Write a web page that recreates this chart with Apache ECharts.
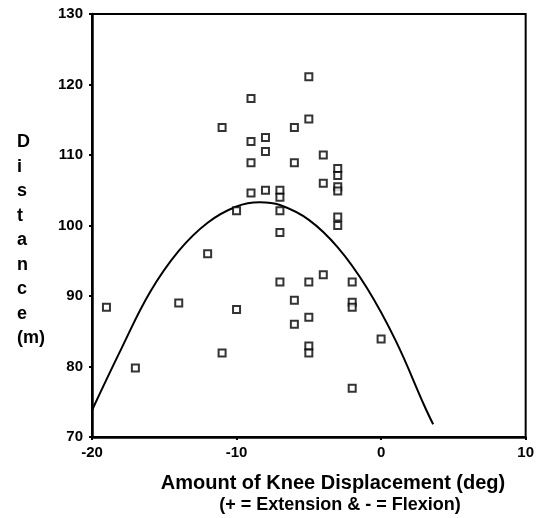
<!DOCTYPE html>
<html>
<head>
<meta charset="utf-8">
<script src="https://cdn.jsdelivr.net/npm/echarts@6/dist/echarts.min.js"></script>
<style>html,body{margin:0;padding:0;background:#fff;}#c{width:537px;height:518px;}</style>
</head>
<body>
<div id="c"></div>
<script>
// Observed points: [knee displacement (deg), distance (m)]
var pointX = [-19,-17,-14,-12,-11,-11,-10,-10,-9,-9,-9,-9,-8,-8,-8,-7,-7,-7,-7,-7,-6,-6,-6,-6,-5,-5,-5,-5,-5,-5,-4,-4,-4,-3,-3,-3,-3,-3,-3,-2,-2,-2,-2,0];
var pointY = [88.4,79.8,89,96,113.9,81.9,102.1,88.1,118,111.9,108.9,104.6,112.5,110.5,105,105,104,102.1,99,92,113.9,108.9,89.4,86,121.1,115.1,92,87,82.9,81.9,110,106,93,108.1,107.1,105.5,104.9,101.2,100,92,89.1,88.4,76.9,83.9];
// Fitted curve
var curveX = [-20,-18,-16,-14,-12,-10,-8.4,-7,-5,-3,-1,1,3,3.6];
var curveY = [73.8,82.4,90.5,96.4,100.4,102.7,103.3,102.9,100.8,96.9,91.2,83.7,74.4,71.8];
var xTicks = [-20,-10,0,10];
var yTicks = [70,80,90,100,110,120,130];
var xTitle1 = 'Amount of Knee Displacement (deg)';
var xTitle2 = '(+ = Extension & - = Flexion)';
var yTitle = ['D','i','s','t','a','n','c','e','(m)'];

var pts = pointX.map(function(x,i){return [x, pointY[i]];});
var curve = curveX.map(function(x,i){return [x, curveY[i]];});

var chart = echarts.init(document.getElementById('c'));
var font = '"Liberation Sans", Arial, sans-serif';
chart.setOption({
  animation: false,
  backgroundColor: '#fff',
  grid: {left: 92, right: 10, top: 14, bottom: 81, show: true, borderColor: '#000', borderWidth: 2, backgroundColor: 'transparent'},
  xAxis: {
    type: 'value', min: -20, max: 10, interval: 10,
    axisLine: {show: true, onZero: false, lineStyle: {color: '#000', width: 2.5}},
    axisTick: {show: true, length: 3, lineStyle: {color: '#000', width: 2}},
    splitLine: {show: false},
    axisLabel: {color: '#000', fontFamily: font, fontWeight: 'bold', fontSize: 15, margin: 8}
  },
  yAxis: {
    type: 'value', min: 70, max: 130, interval: 10,
    axisLine: {show: true, onZero: false, lineStyle: {color: '#000', width: 2.5}},
    axisTick: {show: true, length: 3, lineStyle: {color: '#000', width: 2}},
    splitLine: {show: false},
    axisLabel: {color: '#000', fontFamily: font, fontWeight: 'bold', fontSize: 15, margin: 9}
  },
  graphic: [
    {type: 'text', left: 17, top: 130,
     style: {text: yTitle.join('\n'), fill: '#000', font: 'bold 18px ' + font, lineHeight: 24.5, align: 'center'}},
    {type: 'text', x: 333, y: 483,
     style: {text: xTitle1, fill: '#000', font: 'bold 20px ' + font, align: 'center', verticalAlign: 'middle'}},
    {type: 'text', x: 340, y: 505,
     style: {text: xTitle2, fill: '#000', font: 'bold 18px ' + font, align: 'center', verticalAlign: 'middle'}}
  ],
  series: [
    {type: 'line', data: curve, smooth: 0.4, symbol: 'none', lineStyle: {color: '#000', width: 2}, z: 2},
    {type: 'scatter', data: pts, symbol: 'rect', symbolSize: 7,
     itemStyle: {color: '#fff', borderColor: '#000', borderWidth: 2}, z: 3}
  ]
});
</script>
</body>
</html>
